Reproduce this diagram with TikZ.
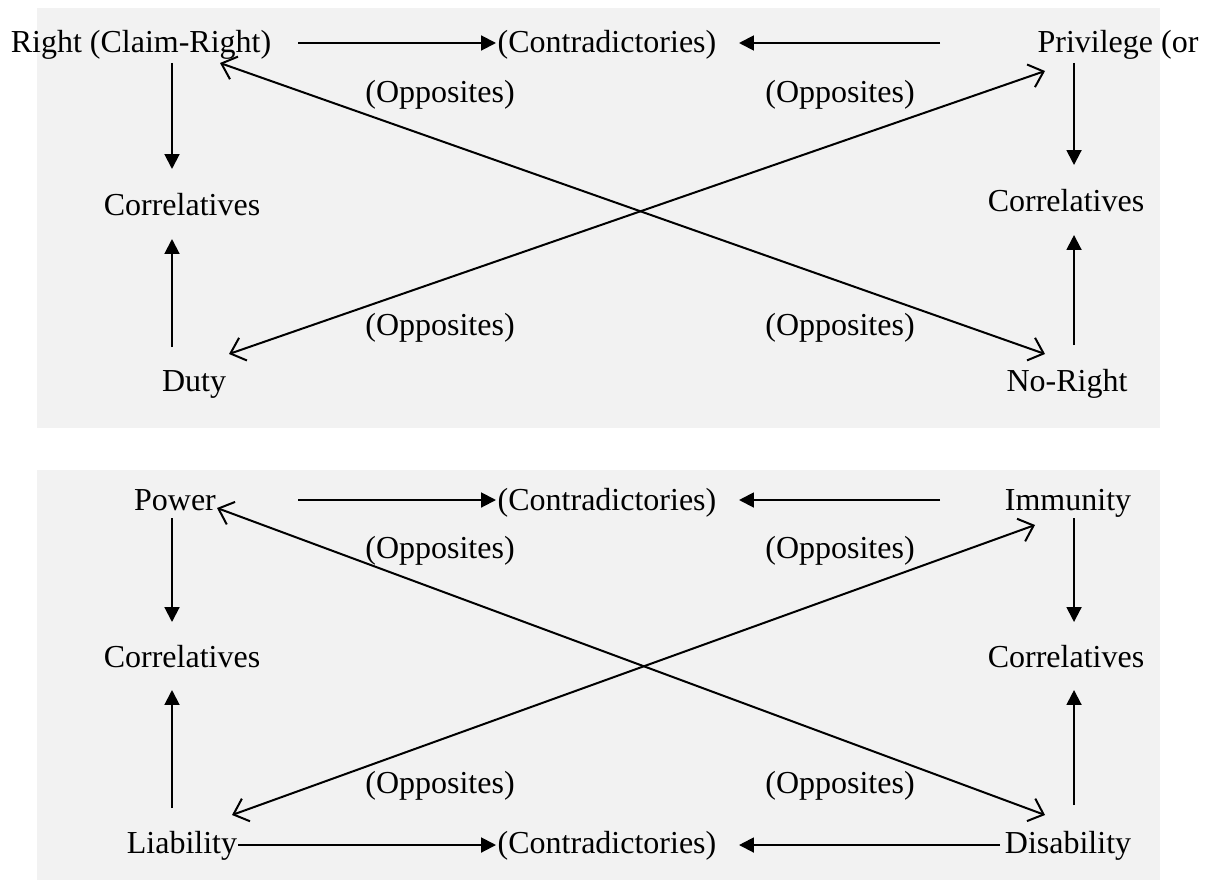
\documentclass[tikz,border=0pt]{standalone}
\usepackage{fontspec}
\setmainfont{Liberation Serif}
\usetikzlibrary{arrows.meta}
\definecolor{panelgray}{RGB}{242,242,242}
\tikzstyle{arrow} = [-{Triangle[length=5.6pt,width=5.6pt]},line width=0.75pt]
\tikzstyle{opp} = [{Straight Barb[length=5pt,width=9pt]}-{Straight Barb[length=5pt,width=9pt]},line width=0.75pt]
\tikzstyle{term} = [anchor=base,inner sep=0pt,font=\fontsize{12}{14}\selectfont]

\begin{document}
\begin{tikzpicture}[x=0.375pt,y=-0.375pt]
          \useasboundingbox (0,0) rectangle (1210,881);
          \fill[panelgray] (37,8) rectangle (1160,428);
          \fill[panelgray] (37,470) rectangle (1160,880);

          \node[term] at (141,53) (right) {Right (Claim-Right)};
          \node[term] at (607,53) (contra1) {(Contradictories)};
          \node[term] at (1118,53) (priv) {Privilege (or};
          \node[term] at (182,215) (corrL) {Correlatives};
          \node[term] at (1066,211) (corrR) {Correlatives};
          \node[term] at (194,391) (duty) {Duty};
          \node[term] at (1067,391) (noright) {No-Right};
          \node[term] at (440,103) (opp1) {(Opposites)};
          \node[term] at (840,103) (opp2) {(Opposites)};
          \node[term] at (440,335) (opp3) {(Opposites)};
          \node[term] at (840,335) (opp4) {(Opposites)};

          \draw[arrow] ([shift={(157,-10)}]right.base) -- ([shift={(-111,-10)}]contra1.base);
          \draw[arrow] ([shift={(-178,-10)}]priv.base) -- ([shift={(132,-10)}]contra1.base);
          \draw[arrow] ([shift={(31,10)}]right.base) -- ([shift={(-10,-46)}]corrL.base);
          \draw[arrow] ([shift={(-22,-44)}]duty.base) -- ([shift={(-10,24)}]corrL.base);
          \draw[arrow] ([shift={(-44,10)}]priv.base) -- ([shift={(8,-46)}]corrR.base);
          \draw[arrow] ([shift={(7,-46)}]noright.base) -- ([shift={(8,24)}]corrR.base);
          \draw[opp] ([shift={(-73,18)}]priv.base) -- ([shift={(35,-37)}]duty.base);
          \draw[opp] ([shift={(79,10)}]right.base) -- ([shift={(-22,-37)}]noright.base);

          \node[term] at (175,510) (power) {Power};
          \node[term] at (607,510) (contra2) {(Contradictories)};
          \node[term] at (1068,510) (immun) {Immunity};
          \node[term] at (182,667) (corrL2) {Correlatives};
          \node[term] at (1066,667) (corrR2) {Correlatives};
          \node[term] at (182,853) (liab) {Liability};
          \node[term] at (607,853) (contra3) {(Contradictories)};
          \node[term] at (1068,853) (disab) {Disability};
          \node[term] at (440,558) (opp5) {(Opposites)};
          \node[term] at (840,558) (opp6) {(Opposites)};
          \node[term] at (440,793) (opp7) {(Opposites)};
          \node[term] at (840,793) (opp8) {(Opposites)};

          \draw[arrow] ([shift={(123,-10)}]power.base) -- ([shift={(-111,-10)}]contra2.base);
          \draw[arrow] ([shift={(-128,-10)}]immun.base) -- ([shift={(132,-10)}]contra2.base);
          \draw[arrow] ([shift={(56,-8)}]liab.base) -- ([shift={(-111,-8)}]contra3.base);
          \draw[arrow] ([shift={(-68,-8)}]disab.base) -- ([shift={(132,-8)}]contra3.base);
          \draw[arrow] ([shift={(-3,8)}]power.base) -- ([shift={(-10,-45)}]corrL2.base);
          \draw[arrow] ([shift={(-10,-45)}]liab.base) -- ([shift={(-10,23)}]corrL2.base);
          \draw[arrow] ([shift={(6,8)}]immun.base) -- ([shift={(8,-45)}]corrR2.base);
          \draw[arrow] ([shift={(6,-48)}]disab.base) -- ([shift={(8,23)}]corrR2.base);
          \draw[opp] ([shift={(-33,15)}]immun.base) -- ([shift={(50,-38)}]liab.base);
          \draw[opp] ([shift={(42,-2)}]power.base) -- ([shift={(-23,-38)}]disab.base);
        \end{tikzpicture}
\end{document}
